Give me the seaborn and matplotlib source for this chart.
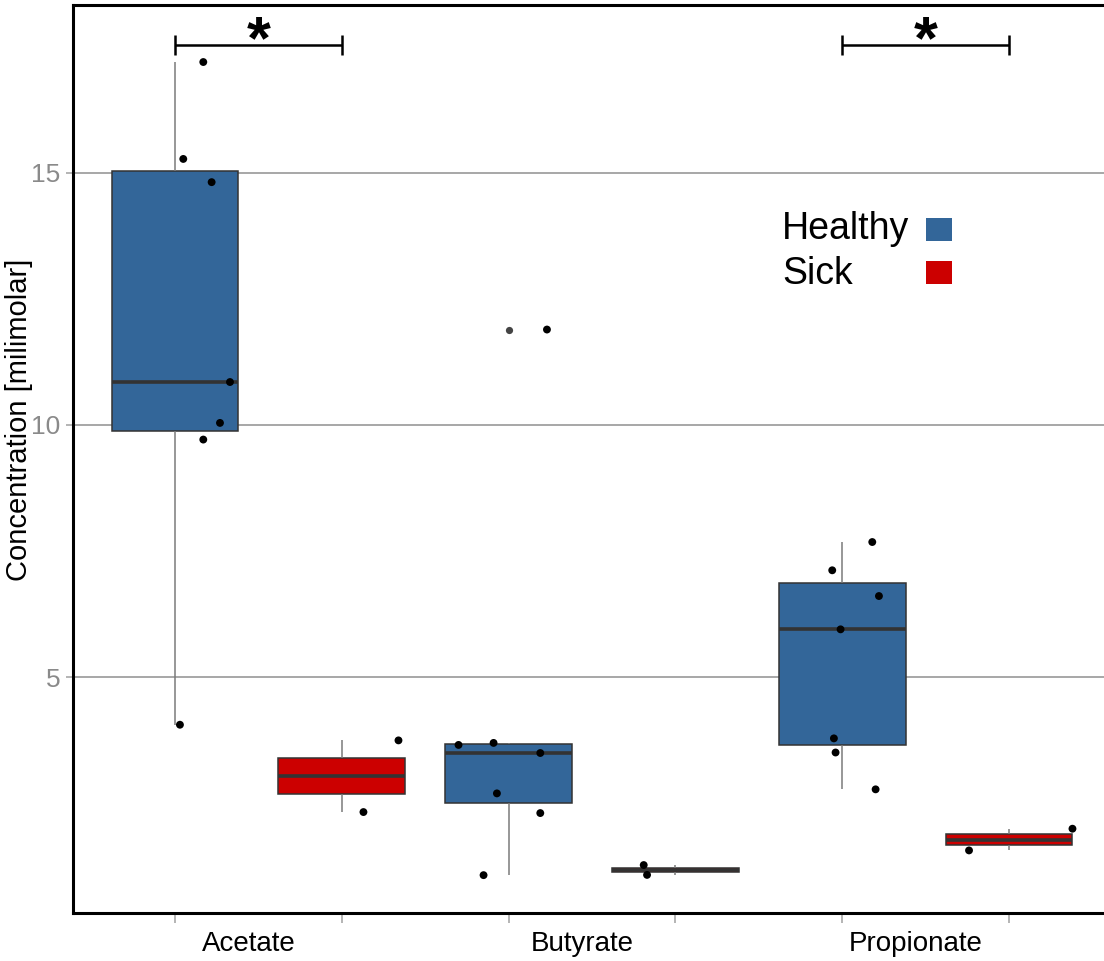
import numpy as np
import pandas as pd
import matplotlib
matplotlib.use("Agg")
import matplotlib.pyplot as plt
import seaborn as sns
from matplotlib.patches import Rectangle

# ---------------- data ----------------
acids = ["Acetate", "Butyrate", "Propionate"]
conditions = ["Healthy", "Sick"]

acetate_healthy = [17.19, 15.27, 14.81, 10.85, 10.04, 9.71, 4.06]
acetate_sick = [3.75, 2.33]
butyrate_healthy = [3.66, 3.70, 3.50, 2.70, 2.31, 1.08, 11.89]
butyrate_sick = [1.28, 1.085]
propionate_healthy = [7.68, 7.12, 6.61, 5.95, 3.79, 3.51, 2.78]
propionate_sick = [2.00, 1.57]

# horizontal jitter of the drawn points (fraction of box spacing)
acetate_healthy_jit = [0.17, 0.05, 0.22, 0.33, 0.27, 0.17, 0.03]
acetate_sick_jit = [0.34, 0.13]
butyrate_healthy_jit = [-0.30, -0.09, 0.19, -0.07, 0.19, -0.15, 0.23]
butyrate_sick_jit = [-0.19, -0.17]
propionate_healthy_jit = [0.18, -0.06, 0.22, -0.01, -0.05, -0.04, 0.20]
propionate_sick_jit = [0.38, -0.24]

significant = ["Acetate", "Propionate"]
y_ticks = [5, 10, 15]
y_label = "Concentration [milimolar]"

colors = {"Healthy": "#336699", "Sick": "#CC0000"}

# ---------------- build table ----------------
series = [
    ("Acetate", "Healthy", acetate_healthy, acetate_healthy_jit),
    ("Acetate", "Sick", acetate_sick, acetate_sick_jit),
    ("Butyrate", "Healthy", butyrate_healthy, butyrate_healthy_jit),
    ("Butyrate", "Sick", butyrate_sick, butyrate_sick_jit),
    ("Propionate", "Healthy", propionate_healthy, propionate_healthy_jit),
    ("Propionate", "Sick", propionate_sick, propionate_sick_jit),
]
rows = []
slot_names = []
for i, (acid, cond, vals, jit) in enumerate(series):
    slot = f"{acid}-{cond}"
    slot_names.append(slot)
    for v, j in zip(vals, jit):
        rows.append({"slot": slot, "pos": i + j, "Acid": acid,
                     "Condition": cond, "value": v})
df = pd.DataFrame(rows)

# ---------------- plot ----------------
sns.set_theme(style="white")
plt.rcParams["font.family"] = ["Liberation Sans", "DejaVu Sans"]
plt.rcParams["text.color"] = "black"

W, H = 1104, 961
fig = plt.figure(figsize=(W / 100, H / 100), dpi=100)
ax_left, ax_right, ax_bottom, ax_top = 73, 1111, 913, 5
ax = fig.add_axes([ax_left / W, 1 - ax_bottom / H,
                   (ax_right - ax_left) / W, (ax_bottom - ax_top) / H])

ax.yaxis.grid(True, color="#a0a0a0", linewidth=1.3)
ax.set_axisbelow(True)

sns.boxplot(data=df, x="slot", y="value", hue="Condition", order=slot_names,
            hue_order=conditions, palette=colors, saturation=1, dodge=False,
            width=0.76, linecolor="#333333", linewidth=1.1, showcaps=False,
            whiskerprops={"color": "#7a7a7a", "linewidth": 1.1},
            medianprops={"color": "#333333", "linewidth": 2.6},
            flierprops={"marker": "o", "markersize": 5.2,
                        "markerfacecolor": "#444444",
                        "markeredgecolor": "none"},
            legend=False, ax=ax)

sns.scatterplot(data=df, x="pos", y="value", color="black", s=32,
                edgecolor="none", legend=False, ax=ax, zorder=5)

# axes limits
ax.set_xlim(-0.611, 5.611)
ax.set_ylim(0.33, 18.32)

# ticks
ax.set_xticks(range(6))
ax.set_xticklabels([""] * 6)
ax.set_xticks([0.44, 2.44, 4.44], minor=True)
ax.set_xticklabels(acids, minor=True, fontsize=20, color="black")
ax.tick_params(axis="x", which="major", length=7, width=1.1,
               color="#a0a0a0", bottom=True)
ax.tick_params(axis="x", which="minor", length=0, pad=13, bottom=True)
ax.set_yticks(y_ticks)
ax.set_yticklabels([str(t) for t in y_ticks], fontsize=19, color="#8a8a8a")
ax.tick_params(axis="y", length=5, width=1.1, color="#a0a0a0", left=True,
               pad=4)
ax.set_xlabel("")
ax.set_ylabel(y_label, fontsize=21, color="black")
ax.yaxis.set_label_coords(-0.039, 0.543)

for side in ["left", "top", "bottom"]:
    ax.spines[side].set_color("black")
    ax.spines[side].set_linewidth(2.2)
    ax.spines[side].set_visible(True)
ax.spines["right"].set_visible(False)

# significance brackets
for acid in significant:
    i = acids.index(acid) * 2
    ax.plot([i, i + 1], [17.52, 17.52], color="black", lw=1.8,
            solid_capstyle="butt", clip_on=False)
    for xx in (i, i + 1):
        ax.plot([xx, xx], [17.32, 17.72], color="black", lw=1.8,
                solid_capstyle="butt", clip_on=False)
    ax.text(i + 0.5, 17.27, "*", ha="center", va="baseline", fontsize=44,
            fontweight="bold", color="black")

# legend (text left-aligned, colour keys on the right)
legend_baselines = [239, 284]
legend_boxes = [(926, 218), (926, 261)]
for cond, base, (bx, by) in zip(conditions, legend_baselines, legend_boxes):
    fig.text(782 / W, 1 - base / H, cond, ha="left", va="baseline",
             fontsize=27, color="black")
    fig.patches.append(Rectangle((bx / W, 1 - (by + 23) / H), 26 / W, 23 / H,
                                 transform=fig.transFigure,
                                 facecolor=colors[cond], edgecolor="none"))

fig.savefig("out.png", dpi=100, facecolor="white")
